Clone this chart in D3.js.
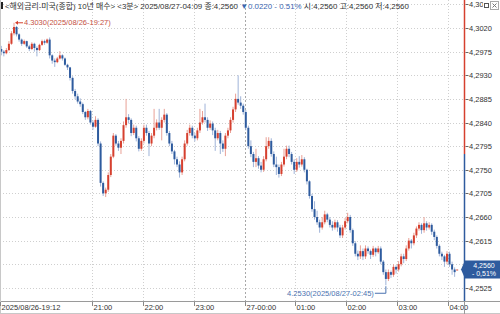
<!DOCTYPE html>
<html>
<head>
<meta charset="utf-8">
<script src="https://cdn.jsdelivr.net/npm/d3@7"></script>
<style>
  body { margin: 0; background: #fff; }
  svg { display: block; font-family: "Liberation Sans", "Noto Sans CJK KR", sans-serif; }
</style>
</head>
<body>
<svg id="chart" width="500" height="314"></svg>
<script>
// 3-minute candles, 2025/08/26-19:12 .. 2025/08/27-04:09
const opens = [
  4.2980,4.2975,4.2972,4.2978,4.2990,4.3010,4.3022,4.3008,4.2998,4.2990,
  4.2995,4.2985,4.2980,4.2990,4.2982,4.2978,4.2988,4.2995,4.2992,4.2998,
  4.2968,4.2958,4.2955,4.2962,4.2968,4.2962,4.2950,4.2945,4.2925,4.2900,
  4.2890,4.2880,4.2875,4.2860,4.2850,4.2862,4.2840,4.2832,4.2845,4.2800,
  4.2725,4.2705,4.2712,4.2740,4.2775,4.2815,4.2800,4.2792,4.2805,4.2835,
  4.2850,4.2845,4.2820,4.2830,4.2810,4.2790,4.2805,4.2830,4.2820,4.2800,
  4.2815,4.2830,4.2840,4.2830,4.2845,4.2855,4.2820,4.2800,4.2785,4.2770,
  4.2760,4.2745,4.2770,4.2800,4.2820,4.2830,4.2815,4.2810,4.2825,4.2840,
  4.2850,4.2845,4.2830,4.2838,4.2825,4.2810,4.2820,4.2800,4.2790,4.2815,
  4.2825,4.2845,4.2865,4.2885,4.2878,4.2872,4.2860,4.2830,4.2795,4.2780,
  4.2765,4.2772,4.2758,4.2750,4.2770,4.2795,4.2805,4.2780,4.2760,4.2755,
  4.2742,4.2760,4.2775,4.2790,4.2780,4.2765,4.2750,4.2765,4.2760,4.2770,
  4.2750,4.2728,4.2700,4.2675,4.2660,4.2650,4.2640,4.2650,4.2665,4.2655,
  4.2645,4.2640,4.2650,4.2640,4.2625,4.2640,4.2652,4.2660,4.2635,4.2610,
  4.2590,4.2585,4.2595,4.2585,4.2600,4.2595,4.2588,4.2600,4.2593,4.2600,
  4.2575,4.2555,4.2542,4.2555,4.2550,4.2565,4.2560,4.2570,4.2585,4.2580,
  4.2600,4.2615,4.2610,4.2625,4.2638,4.2645,4.2635,4.2648,4.2640,4.2645,
  4.2632,4.2622,4.2605,4.2590,4.2585,4.2575,4.2590,4.2570,4.2560,4.2560
];
const highs = [
  4.2986,4.2978,4.2982,4.2995,4.3014,4.3030,4.3024,4.3010,4.3000,4.2998,
  4.2996,4.2988,4.2993,4.2992,4.2985,4.2990,4.2998,4.2998,4.3000,4.3002,
  4.2970,4.2962,4.2965,4.2976,4.2970,4.2964,4.2952,4.2946,4.2928,4.2904,
  4.2895,4.2886,4.2878,4.2862,4.2866,4.2864,4.2844,4.2852,4.2848,4.2804,
  4.2728,4.2716,4.2745,4.2780,4.2820,4.2818,4.2805,4.2810,4.2842,4.2885,
  4.2856,4.2848,4.2836,4.2834,4.2814,4.2810,4.2836,4.2836,4.2824,4.2820,
  4.2866,4.2846,4.2866,4.2850,4.2866,4.2858,4.2824,4.2805,4.2788,4.2775,
  4.2766,4.2775,4.2806,4.2826,4.2836,4.2834,4.2820,4.2830,4.2866,4.2862,
  4.2876,4.2850,4.2844,4.2842,4.2830,4.2826,4.2824,4.2806,4.2820,4.2830,
  4.2850,4.2870,4.2895,4.2930,4.2890,4.2876,4.2864,4.2834,4.2806,4.2784,
  4.2790,4.2776,4.2765,4.2776,4.2812,4.2812,4.2810,4.2785,4.2775,4.2760,
  4.2765,4.2790,4.2796,4.2796,4.2784,4.2770,4.2772,4.2776,4.2778,4.2774,
  4.2752,4.2730,4.2704,4.2690,4.2672,4.2655,4.2660,4.2672,4.2668,4.2660,
  4.2652,4.2655,4.2654,4.2645,4.2645,4.2658,4.2668,4.2664,4.2638,4.2614,
  4.2596,4.2606,4.2600,4.2606,4.2604,4.2598,4.2605,4.2602,4.2605,4.2604,
  4.2578,4.2560,4.2560,4.2558,4.2570,4.2568,4.2576,4.2590,4.2590,4.2606,
  4.2620,4.2618,4.2630,4.2642,4.2650,4.2648,4.2660,4.2652,4.2650,4.2648,
  4.2636,4.2625,4.2608,4.2594,4.2588,4.2595,4.2594,4.2575,4.2564,4.2560
];
const lows = [
  4.2968,4.2966,4.2970,4.2976,4.2988,4.3006,4.3004,4.2994,4.2986,4.2988,
  4.2982,4.2976,4.2978,4.2975,4.2966,4.2976,4.2986,4.2988,4.2990,4.2962,
  4.2952,4.2946,4.2953,4.2960,4.2958,4.2948,4.2940,4.2920,4.2895,4.2884,
  4.2876,4.2870,4.2856,4.2845,4.2846,4.2836,4.2826,4.2830,4.2795,4.2718,
  4.2700,4.2698,4.2708,4.2736,4.2772,4.2796,4.2786,4.2780,4.2800,4.2830,
  4.2838,4.2814,4.2816,4.2804,4.2785,4.2786,4.2800,4.2815,4.2776,4.2795,
  4.2810,4.2825,4.2826,4.2806,4.2840,4.2815,4.2795,4.2780,4.2760,4.2755,
  4.2735,4.2740,4.2766,4.2796,4.2815,4.2810,4.2804,4.2806,4.2820,4.2836,
  4.2840,4.2824,4.2826,4.2816,4.2786,4.2806,4.2780,4.2784,4.2776,4.2810,
  4.2820,4.2840,4.2860,4.2874,4.2866,4.2855,4.2825,4.2790,4.2774,4.2755,
  4.2755,4.2752,4.2745,4.2746,4.2766,4.2790,4.2775,4.2755,4.2740,4.2735,
  4.2738,4.2756,4.2770,4.2774,4.2760,4.2742,4.2746,4.2754,4.2756,4.2745,
  4.2722,4.2695,4.2670,4.2655,4.2645,4.2630,4.2636,4.2646,4.2650,4.2640,
  4.2634,4.2636,4.2632,4.2620,4.2620,4.2636,4.2648,4.2630,4.2605,4.2585,
  4.2578,4.2580,4.2578,4.2580,4.2590,4.2580,4.2584,4.2585,4.2590,4.2570,
  4.2550,4.2530,4.2538,4.2544,4.2546,4.2552,4.2556,4.2566,4.2572,4.2576,
  4.2596,4.2600,4.2606,4.2620,4.2634,4.2628,4.2630,4.2634,4.2636,4.2626,
  4.2616,4.2600,4.2585,4.2578,4.2565,4.2570,4.2565,4.2550,4.2546,4.2560
];
const closes = [
  4.2975,4.2972,4.2978,4.2990,4.3010,4.3022,4.3008,4.2998,4.2990,4.2995,
  4.2985,4.2980,4.2990,4.2982,4.2978,4.2988,4.2995,4.2992,4.2998,4.2968,
  4.2958,4.2955,4.2962,4.2968,4.2962,4.2950,4.2945,4.2925,4.2900,4.2890,
  4.2880,4.2875,4.2860,4.2850,4.2862,4.2840,4.2832,4.2845,4.2800,4.2725,
  4.2705,4.2712,4.2740,4.2775,4.2815,4.2800,4.2792,4.2805,4.2835,4.2850,
  4.2845,4.2820,4.2830,4.2810,4.2790,4.2805,4.2830,4.2820,4.2800,4.2815,
  4.2830,4.2840,4.2830,4.2845,4.2855,4.2820,4.2800,4.2785,4.2770,4.2760,
  4.2745,4.2770,4.2800,4.2820,4.2830,4.2815,4.2810,4.2825,4.2840,4.2850,
  4.2845,4.2830,4.2838,4.2825,4.2810,4.2820,4.2800,4.2790,4.2815,4.2825,
  4.2845,4.2865,4.2885,4.2878,4.2872,4.2860,4.2830,4.2795,4.2780,4.2765,
  4.2772,4.2758,4.2750,4.2770,4.2795,4.2805,4.2780,4.2760,4.2755,4.2742,
  4.2760,4.2775,4.2790,4.2780,4.2765,4.2750,4.2765,4.2760,4.2770,4.2750,
  4.2728,4.2700,4.2675,4.2660,4.2650,4.2640,4.2650,4.2665,4.2655,4.2645,
  4.2640,4.2650,4.2640,4.2625,4.2640,4.2652,4.2660,4.2635,4.2610,4.2590,
  4.2585,4.2595,4.2585,4.2600,4.2595,4.2588,4.2600,4.2593,4.2600,4.2575,
  4.2555,4.2542,4.2555,4.2550,4.2565,4.2560,4.2570,4.2585,4.2580,4.2600,
  4.2615,4.2610,4.2625,4.2638,4.2645,4.2635,4.2648,4.2640,4.2645,4.2632,
  4.2622,4.2605,4.2590,4.2585,4.2575,4.2590,4.2570,4.2560,4.2555,4.2560
];

const timeTickIdx = [0, 36, 56, 76, 96, 116, 136, 156, 176];
const timeTickLabels = ["2025/08/26-19:12", "21:00", "22:00", "23:00", "27-00:00", "01:00", "02:00", "03:00", "04:00"];
const priceTicks = [4.2525, 4.2570, 4.2615, 4.2660, 4.2705, 4.2750, 4.2795, 4.2840, 4.2885, 4.2930, 4.2975, 4.3020, 4.3065];

const prevClose = 4.2780;
const lastPrice = 4.2560;
const highMark = { idx: 5, price: 4.3030, label: "4.3030(2025/08/26-19:27)" };
const lowMark = { idx: 151, price: 4.2530, label: "4.2530(2025/08/27-02:45)" };

// header pieces: [text, colour]
const headerParts = [
  ["<해외금리-미국(종합) 10년 매수> <3분> 2025/08/27-04:09 종:4,2560 ", "#333"],
  ["▼0.0220 - 0.51% ", "#3a66b0"],
  ["시:4,2560 고:4,2560 저:4,2560", "#333"]
];

const RED = "#d6402f", BLUE = "#2e5b9e";
const RED_W = "#e9a096", BLUE_W = "#9fb3d8";
const axisX = 464.5, plotBottom = 301;

const svg = d3.select("#chart");
const x = d3.scaleLinear().domain([0, 180]).range([0, 180 * 2.547]);
const y = d3.scaleLinear().domain([4.2500, 4.30734]).range([plotBottom, 0]);
const fmt = v => d3.format(".4f")(v).replace(".", ",");
const py = y(lastPrice);

// grid
svg.append("g").selectAll("line")
  .data(priceTicks)
  .enter().append("line")
  .attr("x1", 0).attr("x2", axisX)
  .attr("y1", d => Math.round(y(d)) + 0.5).attr("y2", d => Math.round(y(d)) + 0.5)
  .attr("stroke", "#cfcfcf").attr("stroke-dasharray", "1,2");

svg.append("g").selectAll("line")
  .data(timeTickIdx.slice(1))
  .enter().append("line")
  .attr("x1", d => Math.round(x(d)) + 0.5).attr("x2", d => Math.round(x(d)) + 0.5)
  .attr("y1", 0).attr("y2", plotBottom)
  .attr("stroke", d => d === 96 ? "#a8a8a8" : "#cfcfcf")
  .attr("stroke-dasharray", d => d === 96 ? "2,2" : "1,2");

// candles
const idx = d3.range(closes.length);
const isUp = i => closes[i] >= opens[i];
const cx = i => x(i) + 1.27;

svg.append("g").selectAll("line")
  .data(idx)
  .enter().append("line")
  .attr("x1", cx).attr("x2", cx)
  .attr("y1", i => y(highs[i])).attr("y2", i => y(lows[i]))
  .attr("stroke", i => isUp(i) ? RED_W : BLUE_W)
  .attr("stroke-width", 1);

svg.append("g").selectAll("rect")
  .data(idx)
  .enter().append("rect")
  .attr("x", i => cx(i) - 1)
  .attr("width", 2)
  .attr("y", i => y(Math.max(opens[i], closes[i])))
  .attr("height", i => Math.max(1, Math.abs(y(opens[i]) - y(closes[i]))))
  .attr("fill", i => isUp(i) ? RED : BLUE);

// high / low markers
const hx = cx(highMark.idx), hy = y(highMark.price);
svg.append("path")
  .attr("d", `M${hx + 1},${hy} l3,-2 l0,4 z`)
  .attr("fill", RED);
svg.append("line")
  .attr("x1", hx + 3).attr("x2", hx + 9).attr("y1", hy).attr("y2", hy)
  .attr("stroke", RED);
svg.append("text")
  .attr("x", hx + 10).attr("y", hy + 2.5)
  .attr("font-size", 7.5).attr("fill", "#c4503f")
  .text(highMark.label);

const lx = cx(lowMark.idx), ly = y(lowMark.price);
svg.append("path")
  .attr("d", `M${lx},${ly + 1} L${lx},${ly + 8} L${lx - 11},${ly + 8}`)
  .attr("fill", "none").attr("stroke", "#4a72b0");
svg.append("text")
  .attr("x", lx - 12).attr("y", ly + 10.5)
  .attr("text-anchor", "end")
  .attr("font-size", 7.5).attr("fill", "#4a72b0")
  .text(lowMark.label);

// bottom axis
svg.append("line").attr("x1", 0).attr("x2", 500).attr("y1", plotBottom + 0.5).attr("y2", plotBottom + 0.5).attr("stroke", "#9a9a9a");
svg.append("line").attr("x1", 0).attr("x2", 500).attr("y1", 313.5).attr("y2", 313.5).attr("stroke", "#c8c8c8");
svg.append("line").attr("x1", 0.5).attr("x2", 0.5).attr("y1", 0).attr("y2", 314).attr("stroke", "#c8c8c8");

const xt = svg.append("g").selectAll("g")
  .data(timeTickIdx)
  .enter().append("g")
  .attr("transform", d => `translate(${Math.round(x(d)) + 0.5},0)`);
xt.append("line").attr("y1", plotBottom + 1).attr("y2", plotBottom + 5).attr("stroke", "#888");
xt.append("text")
  .attr("x", 1).attr("y", 310)
  .attr("font-size", 7.5).attr("fill", "#333")
  .text((d, i) => timeTickLabels[i]);

// right axis
svg.append("line").attr("x1", axisX).attr("x2", axisX).attr("y1", 0).attr("y2", y(prevClose))
  .attr("stroke", RED).attr("stroke-width", 1.5);
svg.append("line").attr("x1", axisX).attr("x2", axisX).attr("y1", y(prevClose)).attr("y2", plotBottom)
  .attr("stroke", BLUE).attr("stroke-width", 1.5);
svg.append("line").attr("x1", axisX).attr("x2", axisX).attr("y1", plotBottom).attr("y2", 314)
  .attr("stroke", "#9a9a9a");

const yt = svg.append("g").selectAll("g")
  .data(priceTicks)
  .enter().append("g")
  .attr("transform", d => `translate(0,${Math.round(y(d)) + 0.5})`);
yt.append("line").attr("x1", axisX + 1).attr("x2", axisX + 4).attr("stroke", "#666");
// the label hidden by the last-price box is not drawn
yt.filter(d => Math.abs(y(d) - py) > 9).append("text")
  .attr("x", 469).attr("y", 2.6)
  .attr("font-size", 7.5).attr("fill", "#333")
  .text(d => fmt(d));

// last price box
svg.append("path")
  .attr("d", `M461,${py} L465,${py - 9} L500,${py - 9} L500,${py + 9} L465,${py + 9} Z`)
  .attr("fill", BLUE);
svg.append("text").attr("x", 484).attr("y", py - 1.8).attr("text-anchor", "middle")
  .attr("font-size", 7).attr("fill", "#fff").text(fmt(lastPrice));
svg.append("text").attr("x", 484).attr("y", py + 6.8).attr("text-anchor", "middle")
  .attr("font-size", 7).attr("fill", "#fff").text("- 0,51%");

// header
svg.append("rect").attr("x", 1).attr("y", 2).attr("width", 2).attr("height", 7).attr("fill", "#222");
const head = svg.append("text")
  .attr("x", 5).attr("y", 8.5)
  .attr("font-size", 7.9).attr("fill", "#333");
head.selectAll("tspan")
  .data(headerParts)
  .enter().append("tspan")
  .attr("fill", d => d[1])
  .text(d => d[0]);

// window buttons
svg.append("rect").attr("x", 483).attr("y", 0).attr("width", 17).attr("height", 11).attr("fill", "#fff");
svg.append("rect").attr("x", 484.5).attr("y", 3.5).attr("width", 4).attr("height", 4).attr("fill", "none").attr("stroke", "#555");
svg.append("rect").attr("x", 490.5).attr("y", 1.5).attr("width", 8).attr("height", 8).attr("fill", "#fff").attr("stroke", "#aaa");
svg.append("path").attr("d", "M492.5,3.5 L496.5,7.5 M496.5,3.5 L492.5,7.5").attr("stroke", "#777");
</script>
</body>
</html>
